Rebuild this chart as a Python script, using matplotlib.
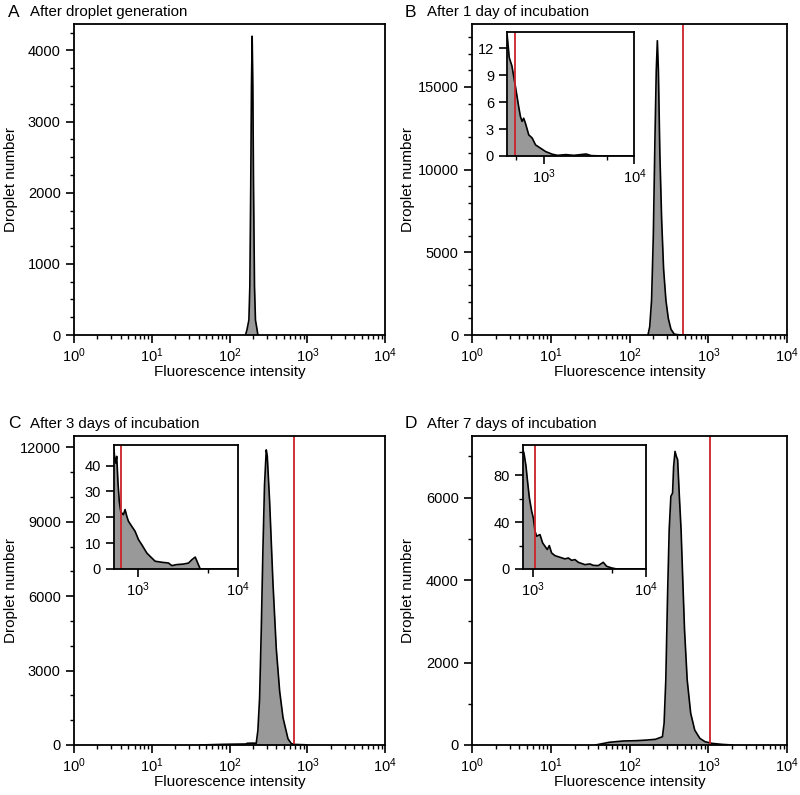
import numpy as np
import matplotlib
matplotlib.use('Agg')
import matplotlib.pyplot as plt
from matplotlib.ticker import MultipleLocator, FixedLocator, NullFormatter, LogFormatterMathtext

plt.rcParams['font.family'] = ['Liberation Sans', 'DejaVu Sans']
plt.rcParams['mathtext.fontset'] = 'custom'
plt.rcParams['mathtext.rm'] = 'Liberation Sans'
plt.rcParams['mathtext.it'] = 'Liberation Sans'
plt.rcParams['font.size'] = 10.5

# A: after droplet generation
a_x = [160, 167, 177, 182, 187, 191, 195, 199, 203, 209, 215, 226, 231]
a_y = [0, 70, 210, 680, 2100, 3500, 4200, 3500, 2100, 680, 210, 70, 0]

# B: after 1 day
b_x = [171, 180, 190, 200, 210, 218, 225, 232, 242, 255, 270, 289, 310, 335, 369, 420, 480, 600]
b_y = [0, 500, 2100, 6000, 12000, 16000, 17800, 16000, 11000, 7000, 4000, 2100, 1000, 350, 50, 14, 8, 0]
b_tail_x = [397, 418, 448, 488, 531, 555, 579, 603, 630, 686, 748, 815, 927, 1052, 1250,
            1422, 1759, 2160, 2937, 3342, 4316, 10000]
b_tail_y = [13.4, 10.95, 10.0, 7.8, 5.5, 4.4, 3.85, 4.2, 3.66, 2.35, 2.0, 1.23, 0.86, 0.49, 0.19,
            0.07, 0.15, 0.07, 0.22, 0.04, 0, 0]
b_gate = 480

# C: after 3 days
c_x = [42, 80, 120, 160, 170, 200, 220, 231, 243, 255, 268, 281, 296, 305, 327, 361, 398,
       440, 486, 563, 620, 673, 800, 923, 1000]
c_y = [0, 25, 35, 40, 70, 75, 70, 590, 1900, 4550, 7840, 10470, 11900, 11650, 9810, 6520, 3890,
       2170, 1100, 250, 60, 25, 15, 10, 0]
c_tail_x = [574, 583, 597, 611, 630, 649, 670, 685, 713, 741, 771, 800, 865, 933, 1008, 1089,
            1222, 1319, 1481, 1729, 2015, 2178, 2444, 2851, 3200, 3458, 3734, 3884, 4188, 10000]
c_tail_y = [46, 43, 41, 43.6, 33, 26, 22.3, 21.7, 21, 23, 20.4, 18.5, 16.5, 14.6, 11.4, 9.4,
            6.2, 4.9, 3.0, 2.6, 2.3, 1.3, 1.7, 1.9, 2.3, 3.6, 4.6, 3.0, 0, 0]
c_gate = 672

# D: after 7 days
d_x = [37, 55, 83, 123, 166, 213, 261, 274, 288, 303, 318, 334, 351, 362, 377, 392, 407, 428,
       450, 473, 498, 538, 596, 671, 780, 906, 1104, 1489, 2010]
d_y = [0, 65, 97, 105, 120, 138, 200, 525, 1580, 3600, 5220, 6030, 6110, 6750, 7120, 7000,
       6920, 6030, 5220, 4000, 2790, 1580, 770, 360, 160, 80, 40, 15, 0]
d_tail_x = [811, 832, 867, 891, 928, 973, 1006, 1042, 1077, 1153, 1217, 1277, 1339, 1394, 1462,
            1566, 1734, 1920, 2055, 2199, 2354, 2519, 2885, 3192, 3418, 3786, 4191, 4487, 4966,
            5503, 10000]
d_tail_y = [102, 99, 88, 76.6, 61, 49.4, 43.7, 32.3, 28, 29.4, 22.3, 19.4, 16.6, 20, 13.7,
            11.4, 10, 8.6, 9.4, 7.4, 8, 5.7, 3.7, 4.3, 3.1, 2.9, 5.7, 2.3, 0.9, 0, 0]
d_gate = 1040

titles = ['After droplet generation', 'After 1 day of incubation',
          'After 3 days of incubation', 'After 7 days of incubation']
letters = ['A', 'B', 'C', 'D']

FILL = '#999999'
RED = '#cc2229'


def style_log_x(ax):
    ax.set_xscale('log')
    ax.xaxis.set_major_formatter(LogFormatterMathtext())
    ax.xaxis.set_minor_formatter(NullFormatter())
    ax.tick_params(axis='both', which='major', direction='out', length=6, width=1.2)
    ax.tick_params(axis='both', which='minor', direction='out', length=3, width=1.0)
    ax.tick_params(axis='x', pad=2)
    for s in ax.spines.values():
        s.set_linewidth(1.3)


def draw_hist(ax, x, y):
    ax.fill_between(x, 0, y, color=FILL, linewidth=0)
    ax.plot(x, y, color='black', linewidth=1.2)


fig = plt.figure(figsize=(8, 7.95), dpi=100)

main_pos = [(0.0925, 0.5786, 0.389, 0.391), (0.59, 0.5786, 0.394, 0.391),
            (0.0925, 0.0629, 0.389, 0.389), (0.59, 0.0629, 0.394, 0.389)]
mains = [(a_x, a_y), (b_x, b_y), (c_x, c_y), (d_x, d_y)]
ytops = [4370, 18800, 12470, 7500]
ymaj = [1000, 5000, 3000, 2000]
ymin = [250, 1000, 1000, 1000]
gates = [None, b_gate, c_gate, d_gate]

for i in range(4):
    ax = fig.add_axes(main_pos[i])
    x, y = mains[i]
    draw_hist(ax, x, y)
    if gates[i] is not None:
        ax.axvline(gates[i], color=RED, linewidth=1.3)
    style_log_x(ax)
    ax.set_xlim(1, 1e4)
    ax.set_ylim(0, ytops[i])
    ax.yaxis.set_major_locator(MultipleLocator(ymaj[i]))
    ax.yaxis.set_minor_locator(MultipleLocator(ymin[i]))
    ax.set_xlabel('Fluorescence intensity', labelpad=0, fontsize=11)
    ax.set_ylabel('Droplet number', fontsize=11)
    ax.yaxis.set_label_coords(-0.18, 0.5)
    l, b, w, h = main_pos[i]
    fx = 0.01 if i % 2 == 0 else 0.506
    fy = b + h + 0.015
    fig.text(fx, fy, letters[i], fontsize=12.5, va='center', ha='left')
    fig.text(fx + 0.028, fy, titles[i], fontsize=10.8, va='center', ha='left')

# insets
inset_pos = [(0.634, 0.8038, 0.159, 0.156), (0.1425, 0.2843, 0.155, 0.156),
             (0.6534, 0.2843, 0.154, 0.156)]
tails = [(b_tail_x, b_tail_y, b_gate), (c_tail_x, c_tail_y, c_gate), (d_tail_x, d_tail_y, d_gate)]
inset_ylim = [13.8, 48, 106]
inset_ymaj = [3, 10, 40]
inset_ymin = [3, 10, 20]

for j in range(3):
    ax = fig.add_axes(inset_pos[j])
    tx, ty, g = tails[j]
    draw_hist(ax, tx, ty)
    ax.axvline(g, color=RED, linewidth=1.3)
    style_log_x(ax)
    ax.set_xlim(tx[0], 1e4)
    ax.set_ylim(0, inset_ylim[j])
    ax.xaxis.set_major_locator(FixedLocator([1e3, 1e4]))
    ax.xaxis.set_minor_locator(FixedLocator([500, 5000]))
    ax.yaxis.set_major_locator(MultipleLocator(inset_ymaj[j]))
    ax.yaxis.set_minor_locator(MultipleLocator(inset_ymin[j]))
    ax.set_facecolor('white')

fig.savefig('out.png', dpi=100)
